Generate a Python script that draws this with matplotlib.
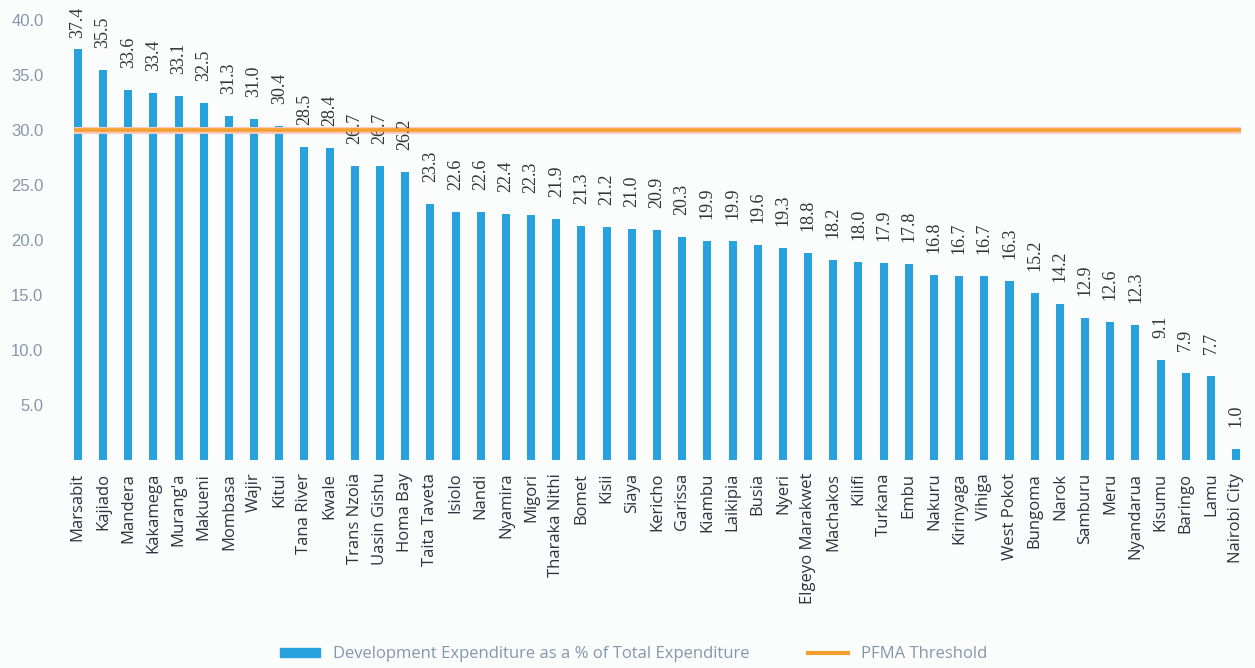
import matplotlib.pyplot as plt
from matplotlib.lines import Line2D
from matplotlib.patches import Patch
import numpy as np

counties = ["Marsabit", "Kajiado", "Mandera", "Kakamega", "Murang'a", "Makueni",
            "Mombasa", "Wajir", "Kitui", "Tana River", "Kwale", "Trans Nzoia",
            "Uasin Gishu", "Homa Bay", "Taita Taveta", "Isiolo", "Nandi", "Nyamira",
            "Migori", "Tharaka Nithi", "Bomet", "Kisii", "Siaya", "Kericho",
            "Garissa", "Kiambu", "Laikipia", "Busia", "Nyeri", "Elgeyo Marakwet",
            "Machakos", "Kilifi", "Turkana", "Embu", "Nakuru", "Kirinyaga",
            "Vihiga", "West Pokot", "Bungoma", "Narok", "Samburu", "Meru",
            "Nyandarua", "Kisumu", "Baringo", "Lamu", "Nairobi City"]
dev_pct = [37.4, 35.5, 33.6, 33.4, 33.1, 32.5, 31.3, 31.0, 30.4, 28.5, 28.4, 26.7,
           26.7, 26.2, 23.3, 22.6, 22.6, 22.4, 22.3, 21.9, 21.3, 21.2, 21.0, 20.9,
           20.3, 19.9, 19.9, 19.6, 19.3, 18.8, 18.2, 18.0, 17.9, 17.8, 16.8, 16.7,
           16.7, 16.3, 15.2, 14.2, 12.9, 12.6, 12.3, 9.1, 7.9, 7.7, 1.0]
threshold = 30.0
yticks = [5, 10, 15, 20, 25, 30, 35, 40]

bar_col = '#27a2df'
line_col = '#f5a02e'
txt_col = '#8596ab'

fig = plt.figure(figsize=(12.55, 6.68), dpi=100, facecolor='#fbfdfd')
ax = fig.add_axes([0.059, 0.311, 0.930, 0.659])
ax.set_facecolor('#fbfdfd')

x = np.arange(len(counties))
ax.bar(x, dev_pct, width=0.32, color=bar_col)
ax.axhline(threshold, color='#f8c8c0', lw=5, zorder=3)
ax.axhline(threshold, color=line_col, lw=2.6, zorder=4)

# value labels sit ~2 units above each bar, squeezed under the top for the tallest
for i, v in enumerate(dev_pct):
    ax.text(i, min(v + 2.0, 38.4), f"{v:.1f}", rotation=90, ha='center', va='bottom',
            fontsize=13, family='Liberation Serif', color='#333333', clip_on=False)

ax.set_xlim(-0.15, 46.2)
ax.set_ylim(0, 40)
ax.set_yticks(yticks)
ax.set_yticklabels([f"{t:.1f}" for t in yticks], fontsize=12, color=txt_col,
                   family='Liberation Sans')
ax.set_xticks(x)
ax.set_xticklabels(counties, rotation=90, fontsize=12, color='#2b3440',
                   family='Open Sans', va='top')
ax.tick_params(axis='y', length=0, pad=22)
ax.tick_params(axis='x', length=0, pad=9)
for s in ax.spines.values():
    s.set_visible(False)

handles = [Patch(color=bar_col), Line2D([0], [0], color=line_col, lw=3)]
labels = ["Development Expenditure as a % of Total Expenditure", "PFMA Threshold"]
fig.legend(handles, labels, loc='lower center', bbox_to_anchor=(0.505, -0.014),
           ncol=2, frameon=False, labelcolor=txt_col,
           handlelength=2.4, handleheight=0.5, columnspacing=3.5,
           prop={'family': 'Open Sans', 'size': 12})

fig.savefig('out.png', dpi=100, facecolor=fig.get_facecolor())
